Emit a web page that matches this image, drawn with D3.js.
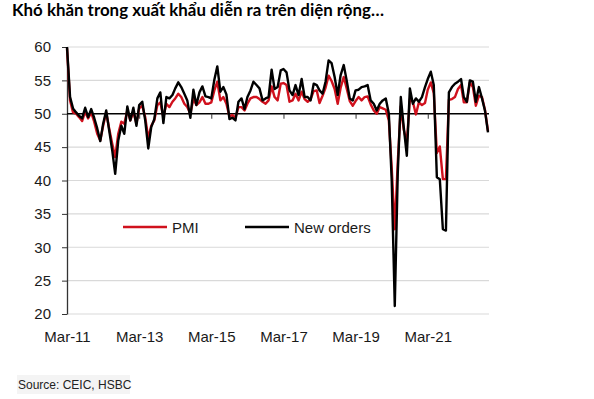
<!DOCTYPE html>
<html>
<head>
<meta charset="utf-8">
<script src="https://cdn.jsdelivr.net/npm/d3@7/dist/d3.min.js"></script>
<style>
  body { margin: 0; background: #fff; }
  svg { display: block; }
  .tick text { font-family: "Liberation Sans", Arial, sans-serif; font-size: 15px; fill: #1a1a1a; }
</style>
</head>
<body>
<svg id="chart" width="594" height="399"></svg>
<script>
// monthly series, first point is Mar-2011
var startMonth = new Date(2011, 2, 1);

var pmi = [
  59.8, 52.0, 50.2, 50.0, 49.5, 48.9, 50.3, 49.3, 50.2, 48.8,
  47.0, 46.0, 48.2, 50.2, 47.8, 45.5, 43.5, 47.0, 48.8, 48.5,
  50.5, 49.0, 50.3, 48.5, 50.8, 51.2, 49.5, 46.3, 48.2, 49.0,
  51.3, 51.7, 49.5, 51.5, 51.0, 51.8, 52.3, 53.0, 52.5, 51.5,
  51.0, 50.0, 52.2, 51.3, 51.7, 52.5, 51.5, 51.5, 51.7, 53.5,
  54.8, 52.0, 52.5, 51.5, 49.6, 49.8, 49.4, 51.0, 51.0, 50.5,
  51.5, 52.3, 52.5, 52.5, 52.2, 51.8, 51.5, 52.0, 54.1, 52.5,
  52.0, 54.5, 54.6, 54.3, 51.8, 52.0, 53.0, 52.0, 53.3, 52.2,
  51.8, 52.2, 53.4, 53.5, 51.6, 52.7, 53.9, 55.7, 54.9, 53.7,
  51.5, 53.9, 55.5, 53.8, 51.9, 51.2, 51.9, 52.5, 52.0, 52.5,
  52.6, 51.4, 50.5, 50.0, 51.0, 50.8, 50.6, 49.0, 41.9, 32.7,
  42.7, 51.1, 47.6, 45.7, 52.2, 51.8, 49.9, 51.7, 51.3, 51.6,
  53.6, 54.7, 53.1, 44.1, 45.1, 40.2, 40.2, 52.1, 52.2, 52.5,
  53.7, 54.3, 51.7, 51.7, 54.7, 54.0, 51.2, 52.7, 52.5, 50.6,
  47.4
];

var newOrders = [
  60.0, 52.5, 50.8, 50.2, 49.7, 49.3, 50.9, 49.5, 50.7, 49.4,
  47.8, 45.9, 48.5, 50.5, 47.5, 44.5, 41.0, 46.0, 48.2, 47.0,
  51.1, 49.0, 50.9, 48.2, 51.3, 51.8, 49.0, 44.8, 48.0, 49.2,
  52.3, 53.2, 48.6, 52.5, 52.3, 52.8, 53.8, 54.7, 54.0, 53.0,
  52.0, 49.4, 53.6, 51.3, 53.2, 54.1, 52.6, 52.5, 52.3, 55.1,
  57.1, 53.3, 54.0, 52.9, 49.2, 49.4, 49.0, 51.8, 52.3, 50.7,
  52.5, 53.5, 54.8, 54.3, 53.8, 52.0, 52.3, 52.5, 56.6, 53.7,
  54.0, 56.5, 56.7, 56.2, 53.5, 52.8, 54.3, 52.8, 55.2, 52.5,
  52.5, 52.0, 54.5, 54.3, 53.5, 53.0, 54.8, 58.0, 57.6, 55.5,
  52.8, 55.8, 57.3, 55.0, 52.3, 52.0, 53.5, 53.6, 54.0, 54.1,
  54.3, 52.0, 51.5, 50.5, 51.5, 52.0, 52.3, 50.0, 40.0, 21.2,
  41.0, 52.5, 48.0, 43.7, 53.8, 51.5, 52.3, 51.8, 52.5, 54.0,
  55.2, 56.3, 54.3, 40.5, 40.2, 32.7, 32.5, 53.2, 54.0, 54.5,
  54.8, 55.2, 52.5, 51.8, 55.0, 54.8, 51.8, 54.0, 52.3, 50.5,
  47.2
];

var yTicks = [20, 25, 30, 35, 40, 45, 50, 55, 60];
var xTickLabels = ["Mar-11", "Mar-13", "Mar-15", "Mar-17", "Mar-19", "Mar-21"];
var seriesNames = ["PMI", "New orders"];
var seriesColors = ["#d0111d", "#000000"];

var titleText = "Khó khăn trong xuất khẩu diễn ra trên diện rộng…";
var sourceText = "Source: CEIC, HSBC";

(function() {

var svg = d3.select("#chart");

var dates = pmi.map(function(d, i) { return d3.timeMonth.offset(startMonth, i); });
var parseLabel = d3.timeParse("%b-%y");
var xTickDates = xTickLabels.map(function(s) { return parseLabel(s); });

var plotLeft = 67, plotRight = 489, plotTop = 47, plotBottom = 314;

var x = d3.scaleTime()
    .domain([startMonth, dates[dates.length - 1]])
    .range([plotLeft, 488]);

var y = d3.scaleLinear()
    .domain([20, 60])
    .range([plotBottom, plotTop]);

// title
svg.append("text")
    .attr("x", 12)
    .attr("y", 16)
    .attr("textLength", 372)
    .attr("lengthAdjust", "spacingAndGlyphs")
    .style("font-family", "Lato, 'Open Sans', sans-serif")
    .style("font-weight", "bold")
    .style("font-size", "17.5px")
    .style("fill", "#000")
    .text(titleText);

// gridlines
svg.append("g")
    .selectAll("line")
    .data(yTicks.filter(function(t) { return t !== 50; }))
  .enter().append("line")
    .attr("x1", plotLeft)
    .attr("x2", plotRight)
    .attr("y1", function(d) { return y(d); })
    .attr("y2", function(d) { return y(d); })
    .attr("stroke", "#d9d9d9")
    .attr("stroke-width", 1.2);

// y axis
var yAxis = svg.append("g")
    .attr("transform", "translate(" + plotLeft + ",0)")
    .call(d3.axisLeft(y).tickValues(yTicks).tickSize(5).tickPadding(11).tickSizeOuter(0));
yAxis.select(".domain").attr("stroke", "#333").attr("stroke-width", 1.3);
yAxis.selectAll(".tick line").attr("stroke", "#333");

// x axis along the 50 line
var xAxis = svg.append("g")
    .attr("transform", "translate(0," + y(50) + ")")
    .call(d3.axisBottom(x).tickValues(xTickDates).tickSize(5).tickFormat("").tickSizeOuter(0));
xAxis.select(".domain").attr("d", "M" + plotLeft + ",0H" + plotRight).attr("stroke", "#000").attr("stroke-width", 1.3);
xAxis.selectAll(".tick line").attr("stroke", "#333");
xAxis.selectAll(".tick").filter(function(d, i) { return i === 0; }).select("line").remove();

// x labels under the plot
var xLabels = svg.append("g")
    .attr("transform", "translate(0," + plotBottom + ")")
    .call(d3.axisBottom(x).tickValues(xTickDates).tickSize(0).tickPadding(17)
        .tickFormat(function(d, i) { return xTickLabels[i]; }));
xLabels.select(".domain").remove();

// lines
var line = d3.line()
    .x(function(d, i) { return x(dates[i]); })
    .y(function(d) { return y(d); });

var plot = svg.append("g");

[pmi, newOrders].forEach(function(series, k) {
    plot.append("path")
        .datum(series)
        .attr("fill", "none")
        .attr("stroke", seriesColors[k])
        .attr("stroke-width", 2.4)
        .attr("stroke-linejoin", "round")
        .attr("d", line);
});

// legend
var legendX = [123, 245];
var legend = svg.append("g");
seriesNames.forEach(function(name, k) {
    legend.append("line")
        .attr("x1", legendX[k])
        .attr("x2", legendX[k] + 44)
        .attr("y1", 227)
        .attr("y2", 227)
        .attr("stroke", seriesColors[k])
        .attr("stroke-width", 2.6);
    legend.append("text")
        .attr("x", legendX[k] + 49)
        .attr("y", 233)
        .style("font-family", "'Liberation Sans', Arial, sans-serif")
        .style("font-size", "15px")
        .style("fill", "#1a1a1a")
        .text(name);
});

// source note
svg.append("rect")
    .attr("x", 17)
    .attr("y", 375)
    .attr("width", 113)
    .attr("height", 19)
    .attr("fill", "#f4f4f4");

svg.append("text")
    .attr("x", 18)
    .attr("y", 389)
    .style("font-family", "'Liberation Sans', Arial, sans-serif")
    .style("font-size", "12px")
    .style("fill", "#222")
    .text(sourceText);

})();
</script>
</body>
</html>
